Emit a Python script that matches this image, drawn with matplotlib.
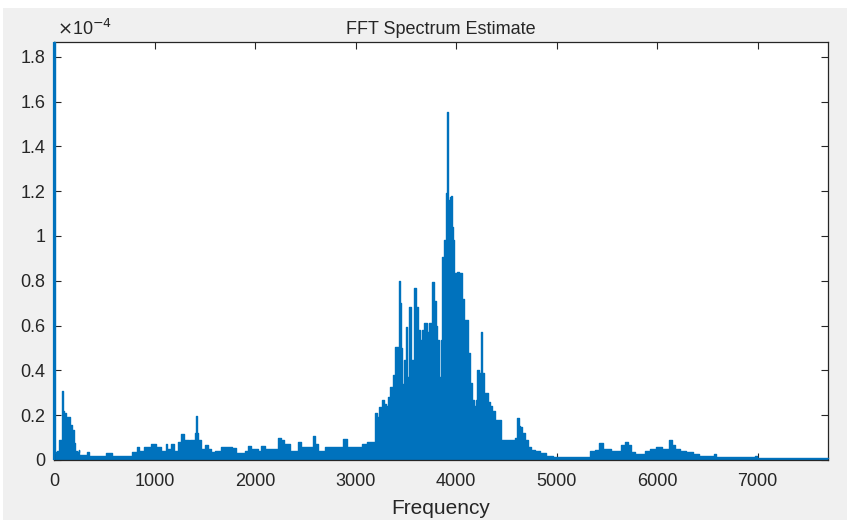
import matplotlib
matplotlib.use("Agg")
import matplotlib.pyplot as plt
from matplotlib.ticker import FixedLocator, FuncFormatter
from matplotlib.patches import Rectangle

# Spectrum readings: frequency (Hz) and magnitude (in units of 1e-4)
freq_hz = [
    0, 12, 24, 40, 50, 73, 84, 96, 110, 123, 149, 160, 173, 182, 189, 200, 210, 239, 250, 256,
    322, 339, 355, 420, 480, 554, 600, 700, 753, 790, 820, 836, 860, 886, 900, 952, 975, 1002,
    1030, 1052, 1080, 1101, 1118, 1140, 1151, 1184, 1200, 1217, 1251, 1284, 1300, 1333, 1350,
    1366, 1400, 1410, 1417, 1425, 1433, 1450, 1483, 1516, 1549, 1583, 1620, 1649, 1680, 1748,
    1798, 1830, 1881, 1920, 1947, 1980, 2014, 2040, 2080, 2120, 2213, 2246, 2279, 2300, 2329,
    2360, 2412, 2445, 2480, 2561, 2584, 2610, 2644, 2680, 2710, 2843, 2903, 2930, 3042, 3080,
    3140, 3191, 3201, 3224, 3247, 3260, 3274, 3290, 3307, 3334, 3357, 3380, 3400, 3423, 3433,
    3446, 3460, 3473, 3490, 3506, 3523, 3546, 3566, 3589, 3606, 3632, 3655, 3672, 3699, 3722,
    3738, 3755, 3771, 3788, 3805, 3821, 3838, 3855, 3865, 3888, 3904, 3911, 3921, 3937, 3947,
    3957, 3964, 3977, 3987, 4004, 4020, 4030, 4044, 4054, 4064, 4077, 4087, 4103, 4129, 4153,
    4169, 4186, 4203, 4219, 4236, 4252, 4269, 4286, 4302, 4328, 4352, 4368, 4402, 4441, 4455,
    4468, 4500, 4567, 4600, 4617, 4630, 4650, 4670, 4700, 4733, 4766, 4799, 4866, 4932, 5000,
    5100, 5200, 5300, 5363, 5400, 5446, 5470, 5529, 5560, 5629, 5662, 5695, 5728, 5761, 5800,
    5861, 5894, 5960, 6027, 6070, 6110, 6133, 6159, 6192, 6259, 6325, 6391, 6450, 6557, 6574,
    6590, 6800, 6955, 6988, 7000, 7300, 7701,
]
magnitude_e4 = [
    1.866, 0.03, 0.037, 0.04, 0.09, 0.09, 0.31, 0.22, 0.21, 0.19, 0.19, 0.156, 0.156, 0.134, 0.134, 0.075, 0.04, 0.037, 0.045, 0.022,
    0.022, 0.035, 0.018, 0.02, 0.016, 0.03, 0.018, 0.02, 0.02, 0.035, 0.035, 0.057, 0.04, 0.04, 0.06, 0.06, 0.07, 0.07,
    0.057, 0.057, 0.04, 0.04, 0.07, 0.05, 0.05, 0.07, 0.04, 0.04, 0.08, 0.115, 0.09, 0.09, 0.075,
    0.09, 0.09, 0.12, 0.196, 0.12, 0.09, 0.09, 0.05, 0.067, 0.05, 0.037, 0.04, 0.04, 0.06, 0.06,
    0.055, 0.03, 0.03, 0.04, 0.064, 0.05, 0.05, 0.04, 0.064, 0.05, 0.05, 0.097, 0.09, 0.07, 0.07,
    0.04, 0.04, 0.08, 0.06, 0.06, 0.108, 0.07, 0.04, 0.04, 0.06, 0.06, 0.092, 0.06, 0.06, 0.07,
    0.082, 0.082, 0.21, 0.19, 0.238, 0.21, 0.27, 0.25, 0.24, 0.283, 0.327, 0.38, 0.506, 0.506, 0.80,
    0.70, 0.50, 0.34, 0.446, 0.595, 0.37, 0.684, 0.446, 0.766, 0.684, 0.58, 0.536, 0.58, 0.61, 0.57,
    0.61, 0.50, 0.796, 0.71, 0.60, 0.536, 0.372, 0.536, 0.907, 0.98, 1.19, 1.555, 1.16, 0.98, 1.175,
    1.18, 1.04, 0.98, 0.833, 0.833, 0.84, 0.73, 0.833, 0.833, 0.72, 0.72, 0.625, 0.625, 0.476, 0.342,
    0.268, 0.24, 0.268, 0.40, 0.39, 0.573, 0.39, 0.30, 0.30, 0.26, 0.24, 0.22, 0.18, 0.18, 0.09,
    0.09, 0.09, 0.09, 0.10, 0.186, 0.15, 0.149, 0.12, 0.09, 0.06, 0.045, 0.04, 0.03, 0.02, 0.015,
    0.012, 0.012, 0.015, 0.04, 0.045, 0.075, 0.05, 0.05, 0.04, 0.04, 0.065, 0.08, 0.065, 0.035, 0.027,
    0.027, 0.04, 0.05, 0.058, 0.05, 0.05, 0.09, 0.065, 0.05, 0.04, 0.035, 0.027, 0.02, 0.02, 0.027,
    0.013, 0.013, 0.013, 0.018, 0.01, 0.01, 0.01,
]

x_ticks = [0, 1000, 2000, 3000, 4000, 5000, 6000, 7000]
y_ticks = [0, 0.2, 0.4, 0.6, 0.8, 1.0, 1.2, 1.4, 1.6, 1.8]

plt.rcParams['font.family'] = ['Liberation Sans', 'DejaVu Sans']

LINE = '#0072BD'
AXC = '#262626'

fig = plt.figure(figsize=(8.47, 5.20), dpi=100, facecolor='#f0f0f0')
# white strips at top and left border of the screenshot
fig.patches.append(Rectangle((0, 1 - 8 / 520), 1, 8 / 520, transform=fig.transFigure,
                             facecolor='white', edgecolor='none', zorder=-10))
fig.patches.append(Rectangle((0, 0), 3 / 847, 1, transform=fig.transFigure,
                             facecolor='white', edgecolor='none', zorder=-10))

ax = fig.add_axes([54 / 847, 60 / 520, 774 / 847, 418 / 520])
ax.set_facecolor('white')

ax.fill_between(freq_hz, magnitude_e4, 0, step='mid', color=LINE, linewidth=0, zorder=2)
ax.plot(freq_hz, magnitude_e4, color=LINE, linewidth=1.0, drawstyle='steps-mid',
        zorder=3, clip_on=False)
# DC component drawn along the left edge
ax.vlines(freq_hz[0], 0, magnitude_e4[0], color=LINE, linewidth=1.6, zorder=3, clip_on=False)

ax.set_xlim(0, max(freq_hz))
ax.set_ylim(0, max(magnitude_e4))

ax.xaxis.set_major_locator(FixedLocator(x_ticks))
ax.yaxis.set_major_locator(FixedLocator(y_ticks))
ax.xaxis.set_major_formatter(FuncFormatter(lambda v, p: f"{v:g}"))
ax.yaxis.set_major_formatter(FuncFormatter(lambda v, p: f"{v:g}"))

ax.tick_params(direction='in', length=5, width=0.8, colors=AXC, labelsize=13,
               top=True, right=True)
ax.tick_params(axis='x', pad=9)
ax.tick_params(axis='y', pad=6)
for s in ax.spines.values():
    s.set_color(AXC)
    s.set_linewidth(0.9)

ax.set_title('FFT Spectrum Estimate', fontsize=13, color=AXC, pad=6)
ax.set_xlabel('Frequency', fontsize=15, color=AXC, labelpad=7)

ax.text(0.004, 1.008, r'$\times$10$^{-4}$', transform=ax.transAxes, fontsize=13,
        color=AXC, ha='left', va='bottom')

fig.savefig('out.png', dpi=100, facecolor=fig.get_facecolor())
